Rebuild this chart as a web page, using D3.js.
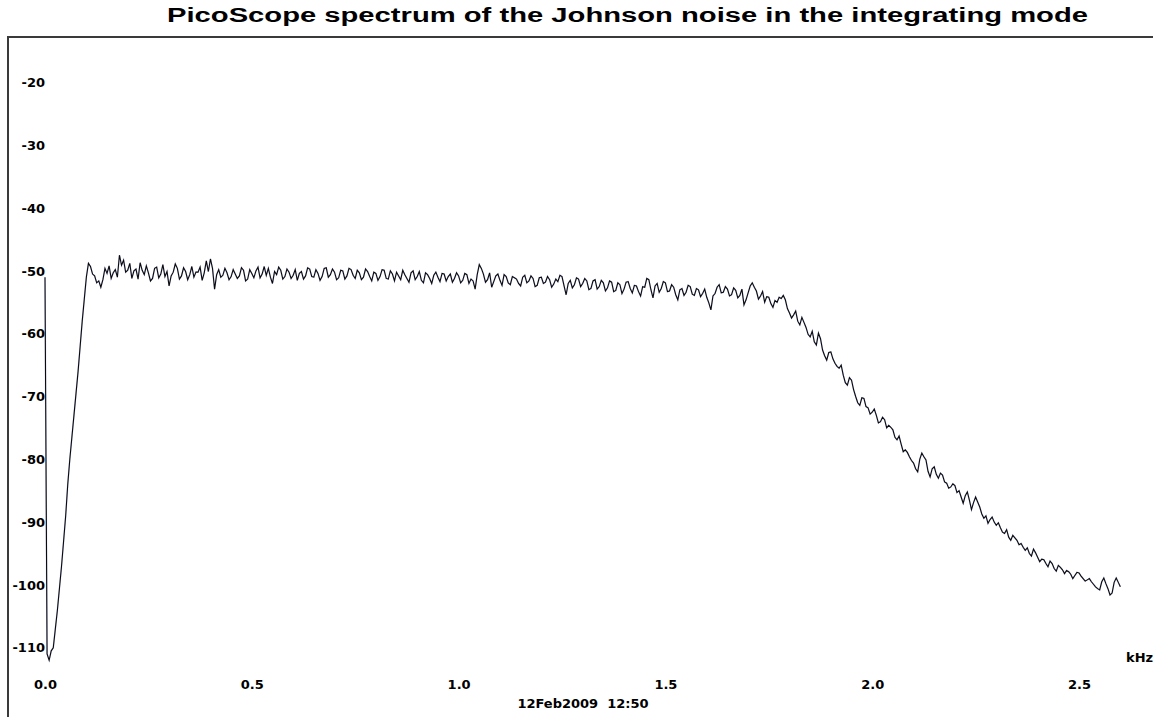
<!DOCTYPE html>
<html>
<head>
<meta charset="utf-8">
<script src="https://cdn.jsdelivr.net/npm/d3@7"></script>
<style>
  html, body { margin: 0; padding: 0; background: #fff; }
  svg { display: block; }
  .lbl { font-family: "DejaVu Sans", sans-serif; font-weight: bold; font-size: 13px; fill: #000; }
</style>
</head>
<body>
<svg id="chart" width="1153" height="717"></svg>
<script>
const titleText = "PicoScope spectrum of the Johnson noise in the integrating mode";
const xUnit = "kHz";
const timestamp = "12Feb2009  12:50";
const binWidthKHz = 0.005;
const xTicks = [0.0, 0.5, 1.0, 1.5, 2.0, 2.5];
const yTicks = [-20, -30, -40, -50, -60, -70, -80, -90, -100, -110];

// spectrum level (dB), one value per 0.005 kHz bin (20 per row = 0.1 kHz)
const spectrumDb = [
  -51, -111, -112, -110.5, -110, -107, -104, -100.5, -97, -93, -89, -84, -80, -76.5, -73, -69.5, -66, -62, -58, -54.5,
  -51, -48.8, -49.3, -50.5, -50.8, -51.9, -51.6, -52.6, -51.4, -49.6, -50.4, -49.2, -51.2, -50.3, -49.8, -51.0, -47.5, -49.1, -48.3, -50.2,
  -49.9, -48.8, -51.2, -50.0, -49.7, -51.3, -48.7, -49.9, -50.6, -49.2, -50.3, -51.6, -51.2, -49.6, -49.4, -51.1, -50.5, -49.0, -50.9, -50.1,
  -52.4, -50.8, -50.2, -48.9, -49.6, -51.3, -50.8, -49.5, -50.1, -51.4, -50.6, -49.3, -51.0, -50.2, -50.2, -49.4, -51.5, -50.3, -48.4, -50.1,
  -48.1, -49.6, -52.9, -50.6, -49.8, -51.0, -50.7, -49.6, -50.3, -51.4, -50.9, -49.8, -50.5, -51.2, -50.8, -49.5, -49.9, -51.6, -51.3, -49.8,
  -50.4, -51.1, -50.0, -49.4, -51.1, -50.5, -49.3, -50.7, -49.6, -51.0, -52.0, -50.1, -50.6, -49.4, -49.9, -51.3, -50.9, -49.7, -50.2, -51.2,
  -50.7, -49.8, -51.5, -50.4, -50.1, -51.3, -50.8, -49.5, -49.7, -50.9, -51.0, -49.8, -50.4, -51.5, -50.9, -49.6, -49.5, -51.0, -50.6, -49.7,
  -50.2, -51.4, -51.1, -49.9, -50.0, -51.3, -50.8, -49.6, -49.8, -50.7, -51.2, -49.9, -50.3, -51.4, -51.0, -49.7, -50.1, -50.9, -51.6, -50.2,
  -50.4, -51.5, -50.9, -49.8, -49.9, -51.2, -51.3, -50.0, -50.5, -51.6, -50.2, -50.8, -51.4, -49.9, -50.6, -51.2, -51.8, -50.3, -50.0, -51.4,
  -50.9, -50.1, -51.5, -51.9, -50.3, -50.6, -51.2, -52.0, -50.7, -50.2, -51.0, -51.7, -50.4, -50.5, -51.6, -50.9, -50.5, -51.8, -51.2, -50.3,
  -50.8, -51.9, -51.5, -50.4, -50.6, -52.0, -51.3, -51.6, -52.9, -50.6, -49.0, -49.6, -50.5, -51.8, -51.4, -50.3, -52.6, -51.7, -50.8, -50.5,
  -51.5, -52.3, -50.6, -50.9, -51.9, -52.2, -50.9, -51.1, -51.3, -52.0, -52.4, -51.0, -50.7, -51.9, -51.6, -50.8, -51.2, -52.5, -52.3, -51.1,
  -51.0, -52.0, -51.8, -50.9, -51.4, -52.6, -52.1, -51.3, -51.7, -50.7, -50.9, -52.4, -53.8, -52.0, -51.5, -52.7, -52.2, -51.1, -51.3, -52.5,
  -52.0, -51.2, -51.6, -53.0, -52.8, -51.6, -51.4, -52.9, -52.5, -51.5, -51.9, -53.2, -52.7, -51.6, -51.8, -53.3, -53.1, -51.9, -52.2, -53.6,
  -52.9, -51.8, -51.7, -52.8, -53.5, -52.3, -52.4, -53.3, -54.0, -52.5, -52.6, -51.2, -51.4, -53.0, -54.3, -52.4, -52.0, -53.4, -52.8, -51.7,
  -51.9, -53.3, -53.2, -52.2, -52.6, -53.8, -54.6, -53.0, -52.8, -53.9, -53.4, -52.3, -52.5, -53.7, -53.9, -52.8, -53.0, -54.1, -53.6, -52.9,
  -54.2, -55.1, -56.2, -54.0, -53.6, -52.6, -52.2, -53.5, -53.4, -52.5, -52.9, -54.0, -53.8, -52.7, -53.1, -54.3, -53.9, -52.9, -55.4, -54.6,
  -53.5, -52.4, -51.9, -52.6, -53.2, -54.5, -54.0, -53.3, -55.0, -54.1, -54.2, -55.2, -55.8, -54.7, -55.0, -54.2, -54.4, -53.9, -54.6, -56.0,
  -56.7, -57.5, -57.0, -56.4, -58.0, -58.6, -57.4, -58.2, -59.0, -60.1, -60.5, -59.6, -61.3, -61.8, -59.9, -60.8, -62.6, -63.5, -64.2, -63.0,
  -62.9, -64.0, -64.7, -65.2, -65.5, -65.0, -66.6, -67.8, -68.2, -67.0, -67.4, -68.9, -70.0, -71.0, -71.4, -70.2, -70.3, -71.6, -71.8, -72.8,
  -72.5, -72.0, -73.0, -74.2, -74.0, -73.3, -73.7, -75.0, -74.6, -74.9, -75.3, -76.5, -76.9, -76.3, -77.6, -78.8, -78.5, -78.9, -79.6, -80.2,
  -80.6, -81.5, -82.0, -80.0, -79.0, -79.6, -80.1, -81.9, -82.8, -81.5, -81.2, -82.4, -83.0, -82.2, -82.5, -83.6, -83.8, -84.6, -84.4, -83.9,
  -84.2, -85.3, -85.0, -86.0, -87.0, -85.8, -85.2, -86.5, -88.0, -86.9, -86.0, -86.8, -87.6, -88.7, -89.4, -89.0, -90.2, -89.6, -89.2, -90.0,
  -90.5, -90.1, -90.9, -91.6, -91.8, -91.2, -92.4, -92.9, -92.1, -92.5, -92.9, -93.6, -93.4, -94.0, -94.5, -94.1, -95.0, -95.4, -94.3, -94.9,
  -95.6, -96.3, -95.9, -96.0, -96.6, -97.1, -96.2, -96.6, -97.4, -97.8, -96.9, -97.2, -97.6, -98.2, -97.7, -97.9, -98.3, -99.0, -98.5, -98.0,
  -98.1, -98.6, -99.0, -99.4, -99.2, -99.0, -99.5, -99.9, -100.3, -100.6, -100.8, -99.5, -98.9, -99.8, -100.6, -101.6, -101.3, -99.6, -98.9, -99.6,
  -100.3
];

const svg = d3.select("#chart");
const W = 1153, H = 717;

const x = d3.scaleLinear().domain([0, 2.5]).range([45, 1079]);
const y = d3.scaleLinear().domain([-20, -110]).range([82.5, 647.7]);

// frame (left and top border)
svg.append("path")
  .attr("d", `M8,${H} L8,37 L${W},37`)
  .attr("fill", "none")
  .attr("stroke", "#3a3a3a")
  .attr("stroke-width", 2);

// title (horizontally stretched like the reference)
svg.append("text")
  .attr("x", 627.5).attr("y", 22)
  .attr("text-anchor", "middle")
  .attr("textLength", 921)
  .attr("lengthAdjust", "spacingAndGlyphs")
  .style("font-family", "'Liberation Sans', Arial, sans-serif")
  .style("font-weight", "bold")
  .style("font-size", "19.5px")
  .text(titleText);

// y axis labels
const yAxis = d3.axisLeft(y).tickValues(yTicks).tickSize(0).tickPadding(0)
  .tickFormat(d => String(d));
const gy = svg.append("g").attr("transform", "translate(45,0)").call(yAxis);
gy.select(".domain").remove();
gy.selectAll("text").attr("class", "lbl").attr("font-family", null).attr("font-size", null);

// x axis labels
const xAxis = d3.axisBottom(x).tickValues(xTicks).tickSize(0).tickPadding(0)
  .tickFormat(d3.format(".1f"));
const gx = svg.append("g").attr("transform", "translate(0,680)").call(xAxis);
gx.select(".domain").remove();
gx.selectAll("text").attr("class", "lbl").attr("font-family", null).attr("font-size", null);

// unit + timestamp
svg.append("text").attr("class", "lbl").attr("x", 1126).attr("y", 662).text(xUnit);
svg.append("text").attr("class", "lbl").attr("x", 583).attr("y", 708)
  .attr("text-anchor", "middle").style("white-space", "pre").text(timestamp);

// trace
const pts = spectrumDb.map((v, i) => [i * binWidthKHz, v]);
const line = d3.line().x(d => x(d[0])).y(d => y(d[1]));
svg.append("path")
  .datum(pts)
  .attr("d", line)
  .attr("fill", "none")
  .attr("stroke", "#2a3cd0")
  .attr("stroke-width", 1.6)
  .attr("stroke-opacity", 0.22);
svg.append("path")
  .datum(pts)
  .attr("d", line)
  .attr("fill", "none")
  .attr("stroke", "#0a0a0a")
  .attr("stroke-width", 1.1);
</script>
</body>
</html>
